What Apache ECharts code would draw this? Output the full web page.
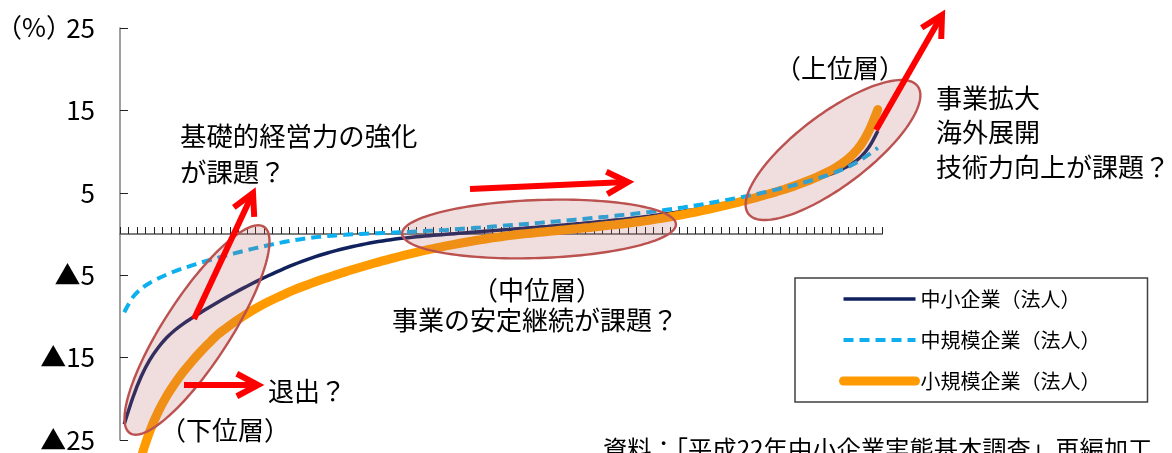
<!DOCTYPE html>
<html>
<head>
<meta charset="utf-8">
<script src="https://cdn.jsdelivr.net/npm/echarts@6/dist/echarts.min.js"></script>
<style>
html,body{margin:0;padding:0;background:#fff;}
#chart{width:1172px;height:453px;}
</style>
</head>
<body>
<div id="chart"></div>
<script>
// ---- data ----
const categories = ['1','2','3','4','5','6','7','8','9','10','11','12','13','14','15','16','17','18','19','20',
'21','22','23','24','25','26','27','28','29','30','31','32','33','34','35','36','37','38','39','40',
'41','42','43','44','45','46','47','48','49','50','51','52','53','54','55','56','57','58','59','60',
'61','62','63','64','65','66','67','68','69','70','71','72','73','74','75','76','77','78','79','80',
'81','82','83','84','85','86','87','88','89','90'];

const seriesNames = ['中小企業（法人）', '中規模企業（法人）', '小規模企業（法人）'];

// 中小企業（法人）
const smeAll = [-23.1,-19.9,-17.3,-15.3,-13.8,-12.6,-11.65,-10.87,-10.2,-9.55,
-8.92,-8.31,-7.72,-7.15,-6.60,-6.07,-5.56,-5.07,-4.60,-4.15,
-3.72,-3.32,-2.95,-2.61,-2.30,-2.02,-1.76,-1.52,-1.30,-1.10,
-0.92,-0.76,-0.62,-0.50,-0.39,-0.29,-0.20,-0.12,-0.04,0.04,
0.12,0.20,0.28,0.36,0.44,0.52,0.60,0.68,0.76,0.84,
0.92,1.01,1.10,1.19,1.28,1.38,1.48,1.58,1.69,1.80,
1.92,2.04,2.17,2.31,2.45,2.60,2.76,2.93,3.11,3.30,
3.50,3.71,3.93,4.16,4.40,4.65,4.91,5.18,5.45,5.75,
6.07,6.40,6.75,7.12,7.52,7.98,8.56,9.36,10.6,12.5];

// 中規模企業（法人）
const medium = [-9.5,-7.7,-6.65,-5.95,-5.4,-4.93,-4.52,-4.15,-3.81,-3.49,
-3.19,-2.90,-2.62,-2.35,-2.09,-1.84,-1.60,-1.37,-1.15,-0.95,
-0.77,-0.61,-0.47,-0.35,-0.25,-0.17,-0.10,-0.04,0.01,0.06,
0.10,0.14,0.18,0.22,0.27,0.32,0.38,0.44,0.50,0.57,
0.64,0.71,0.78,0.86,0.94,1.02,1.10,1.18,1.26,1.35,
1.44,1.53,1.62,1.71,1.80,1.90,2.00,2.10,2.21,2.32,
2.43,2.55,2.67,2.80,2.93,3.07,3.22,3.38,3.55,3.73,
3.92,4.11,4.30,4.50,4.70,4.92,5.15,5.39,5.64,5.90,
6.17,6.46,6.77,7.11,7.49,7.92,8.42,9.00,9.68,10.45];

// 小規模企業（法人）
const small = [-45.0,-32.5,-27.2,-24.0,-21.6,-19.7,-18.1,-16.7,-15.45,-14.3,
-13.25,-12.25,-11.45,-10.70,-10.00,-9.35,-8.77,-8.23,-7.73,-7.26,
-6.82,-6.41,-6.02,-5.65,-5.30,-4.96,-4.63,-4.31,-4.00,-3.70,
-3.41,-3.13,-2.86,-2.60,-2.35,-2.11,-1.88,-1.66,-1.45,-1.25,
-1.06,-0.88,-0.71,-0.55,-0.40,-0.26,-0.13,-0.01,0.10,0.20,
0.30,0.40,0.50,0.60,0.70,0.80,0.91,1.02,1.13,1.25,
1.38,1.52,1.67,1.83,2.00,2.18,2.37,2.57,2.78,3.00,
3.23,3.47,3.72,3.98,4.25,4.53,4.82,5.12,5.44,5.78,
6.15,6.55,6.99,7.48,8.04,8.72,9.60,10.8,12.6,15.1];

const yTickValues = [-25, -15, -5, 5, 15, 25];
const yTickLabels = ['▲25', '▲15', '▲5', '5', '15', '25'];

// ---- helpers for decorative annotations ----
const FONT = '"Noto Sans CJK JP", "Noto Sans", sans-serif';
function ellipse(cx, cy, a, b, deg) {
  const t = deg * Math.PI / 180, pts = [];
  for (let k = 0; k < 144; k++) {
    const u = 2 * Math.PI * k / 144;
    const ex = a * Math.cos(u), ey = b * Math.sin(u);
    pts.push([cx + ex * Math.cos(t) - ey * Math.sin(t), cy + ex * Math.sin(t) + ey * Math.cos(t)]);
  }
  return {
    type: 'polygon', z: 100, shape: { points: pts },
    style: { fill: 'rgba(185,100,100,0.22)', stroke: '#bb5250', lineWidth: 2.4 }
  };
}
function arrow(x1, y1, x2, y2) {
  const dx = x1 - x2, dy = y1 - y2, L = Math.hypot(dx, dy);
  const ux = dx / L, uy = dy / L, len = 24, ang = 28 * Math.PI / 180;
  const a1 = [x2 + len * (ux * Math.cos(ang) - uy * Math.sin(ang)), y2 + len * (ux * Math.sin(ang) + uy * Math.cos(ang))];
  const a2 = [x2 + len * (ux * Math.cos(-ang) - uy * Math.sin(-ang)), y2 + len * (ux * Math.sin(-ang) + uy * Math.cos(-ang))];
  return [
    { type: 'line', z: 110, shape: { x1: x1, y1: y1, x2: x2 + ux * 2, y2: y2 + uy * 2 }, style: { stroke: '#ff0000', lineWidth: 6 } },
    { type: 'polyline', z: 110, shape: { points: [a1, [x2, y2], a2] }, style: { stroke: '#ff0000', lineWidth: 6, lineJoin: 'miter', fill: null } }
  ];
}
function label(text, x, y, size, align) {
  return {
    type: 'text', z: 120, x: x, y: y,
    style: { text: text, font: size + 'px ' + FONT, fill: '#000', textAlign: align || 'left', textVerticalAlign: 'middle' }
  };
}

const chart = echarts.init(document.getElementById('chart'), null, { renderer: 'canvas' });

const graphics = [
  ellipse(197, 330, 123, 33, -57),
  ellipse(539, 229, 137, 29, -2),
  ellipse(833, 150, 106, 36, -37)
]
  .concat(arrow(194, 319, 253, 193))
  .concat(arrow(184, 385, 258, 385))
  .concat(arrow(470, 189, 628, 182))
  .concat(arrow(876, 130, 942, 15))
  .concat([
    label('（%）', -4, 27, 26),
    label('基礎的経営力の強化', 180, 136, 26.4),
    label('が課題？', 180, 172, 26.4),
    label('（上位層）', 840, 68, 26, 'center'),
    label('事業拡大', 936, 98, 26),
    label('海外展開', 936, 132, 26),
    label('技術力向上が課題？', 936, 167, 26),
    label('（中位層）', 537, 290, 26, 'center'),
    label('事業の安定継続が課題？', 535, 320, 26, 'center'),
    label('退出？', 268, 391, 26),
    label('（下位層）', 225, 430, 26, 'center'),
    label('資料：「平成22年中小企業実態基本調査」再編加工', 603, 449, 24.3)
  ]);

const legendLine = [
  { width: 3.5 },
  { width: 4, type: [10, 6] },
  { width: 9, cap: 'round' }
];

const option = {
  animation: false,
  backgroundColor: '#ffffff',
  grid: { left: 120, right: 290, top: 28, bottom: 11, containLabel: false },
  legend: {
    data: seriesNames.map(function (n, i) { return { name: n, lineStyle: legendLine[i], itemStyle: { opacity: 0 } }; }),
    orient: 'vertical',
    left: 795, top: 278,
    padding: [11, 47, 11, 44],
    itemWidth: 72, itemHeight: 14, itemGap: 21,
    itemStyle: { opacity: 0 },
    backgroundColor: '#ffffff',
    borderColor: '#404040', borderWidth: 1.5,
    textStyle: { fontFamily: FONT, fontSize: 20, color: '#000' }
  },
  xAxis: {
    type: 'category',
    data: categories,
    boundaryGap: true,
    axisLine: { show: true, onZero: true, lineStyle: { color: '#7f7f7f', width: 2 } },
    axisTick: { show: true, interval: 0, inside: true, length: 7, lineStyle: { color: '#222', width: 1 } },
    axisLabel: { show: false },
    splitLine: { show: false }
  },
  yAxis: {
    type: 'value',
    min: -25, max: 25, interval: 10,
    axisLine: { show: true, onZero: false, lineStyle: { color: '#7f7f7f', width: 1.5 } },
    axisTick: { show: true, inside: true, length: 8, lineStyle: { color: '#222', width: 1 } },
    splitLine: { show: false },
    axisLabel: {
      margin: 25, fontSize: 26, color: '#000', fontFamily: FONT,
      formatter: function (v) { const i = yTickValues.indexOf(v); return i >= 0 ? yTickLabels[i] : ''; }
    }
  },
  series: [
    {
      name: seriesNames[0], type: 'line', data: smeAll, symbol: 'none', smooth: 0.3, clip: false, z: 2,
      lineStyle: { color: '#10215e', width: 3.5 }, itemStyle: { color: '#10215e' }
    },
    {
      name: seriesNames[1], type: 'line', data: medium, symbol: 'none', smooth: 0.3, clip: false, z: 4,
      lineStyle: { color: '#0cb0ee', width: 4, type: [10, 6] }, itemStyle: { color: '#0cb0ee' }
    },
    {
      name: seriesNames[2], type: 'line', data: small, symbol: 'none', smooth: 0.3, clip: false, z: 3,
      lineStyle: { color: '#ff9b00', width: 9, cap: 'round' }, itemStyle: { color: '#ff9b00' }
    }
  ],
  graphic: { elements: graphics }
};
chart.setOption(option);
</script>
</body>
</html>
